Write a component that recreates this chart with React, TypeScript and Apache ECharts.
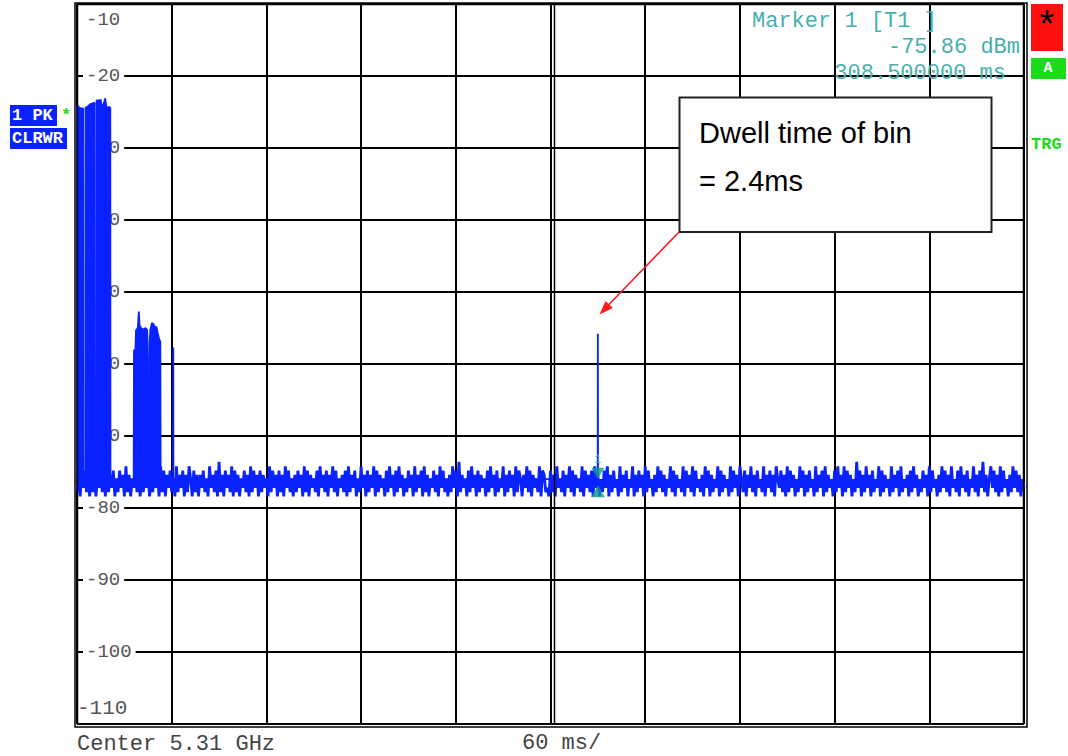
import React, { useEffect, useRef } from "react";
import * as echarts from "echarts";

// ---- data ----
const sweepMs = [0, 600];
const levelRange = [-110, -10];
const timeDivMs = 60;
const levelDivDb = 10;

// noise floor, one sample per ms; digit d => noiseBase + noiseStep * d (dBm)
const noiseBase = -79;
const noiseStep = 0.6;
const noiseFloorDigits = [
  "26163 72817 26153 62718 26371 52736 18261 53728 16273 61527",
  "36182 71637 25182 63716 28517 26163 72518 36271 92617 36281",
  "72615 37261 82736 17263 51827 36172 61837 25162 73618 27163",
  "52718 36271 63827 15362 71826 37152 83617 26381 72635 17283",
  "61728 36152 73618 26371 82615 37261 83725 16283 71926 35172",
  "83617 26351 72836 17253 81627 36182 75163 82716 35281 76231",
  "72618 35271 63827 16352 81736 27183 61527 38162 73518 26371",
  "53816 27361 82735 16283 72615 38271 63528 17362 81735 26183",
  "71625 38172 63518 27361 85271 63826 17352 81637 26185 37261",
  "82736 15283 71627 35182 63718 26351 72836 18273 61529 37162",
  "83617 25381 72635 18263 71825 36172 83615 27361 82735 16283",
  "72618 35271 83627 15382 61739 26158 37261 82735 16283 72615",
  "3",
];

// burst envelopes [ms, dBm]
const burstBase = -76;
const burstGroupA: [number, number][] = [
  [0, -76], [0, -24.0], [1, -24.3], [2.5, -24.5], [3.9, -24.5], [4.0, -76], [5.3, -76],
  [5.4, -24.4], [7, -24.2], [8.5, -23.9], [10, -23.8], [11.1, -23.7], [11.2, -76], [12.3, -76],
  [12.4, -23.4], [14, -23.4], [15, -23.3], [15.5, -24.0], [15.6, -76], [16.5, -76],
  [16.6, -24.0], [17.3, -23.6], [17.8, -23.1], [18.7, -24.3], [18.8, -76], [19.7, -76],
  [19.8, -24.3], [21.1, -24.4], [21.2, -76],
];
const burstGroupB: [number, number][] = [
  [35.9, -76], [36.1, -58.1], [37, -58.0], [37.4, -55.3], [38.5, -55.0], [39.2, -52.7],
  [39.6, -54.6], [40.5, -55.0], [42, -55.2], [43.5, -55.0], [44.5, -55.3], [44.8, -59.0],
  [44.9, -76], [45.9, -76], [46.0, -57.0], [46.5, -55.2], [47.5, -54.3], [48.6, -54.5],
  [49.5, -55.0], [50.3, -54.8], [51.1, -55.7], [52.1, -56.6], [52.8, -56.9], [53.0, -76],
];
const burstSpikes: [number, number][] = [
  [60.9, -76], [61, -57.7], [61.1, -76],
  [329.9, -76], [330, -55.8], [330.1, -76],
];
const marker1: [number, number] = [330, -75.86];

const markerTexts = ["Marker 1 [T1 ]", "-75.86 dBm", "308.500000 ms"];
const footerTexts = ["Center 5.31 GHz", "60 ms/"];
const traceBadges = ["1 PK", "CLRWR"];
const annotationLines = ["Dwell time of bin", "= 2.4ms"];
const statusTexts = ["*", "A", "TRG"];

// ---- styles ----
const MONO = '"Liberation Mono", "Courier New", monospace';
const SANS = '"Liberation Sans", Arial, sans-serif';
const BLUE = "#0a22ff";
const TEAL = "#46b0b0";
const MARK = "#10998e";
const GREEN = "#19dd19";

export default function App() {
  const ref = useRef<HTMLDivElement>(null);

  useEffect(() => {
    if (!ref.current) return;
    const chart = echarts.init(ref.current, undefined, { renderer: "svg" });

    const digits = noiseFloorDigits.join("").replace(/\s/g, "");
    const noiseData = digits.split("").map((d, i) => [i, noiseBase + noiseStep * Number(d)]);
    const burstData = [...burstGroupA, ...burstGroupB, ...burstSpikes];

    const labelFmt = (v: number) => {
      if (v === levelRange[0]) return `{mn|${v}}`;
      if (v === levelRange[1]) return `{s| }{mx|${v}}`;
      return `{s| }{t|${v}}`;
    };

    chart.setOption({
      animation: false,
      backgroundColor: "#fff",
      grid: { left: 77, right: 44, top: 4, bottom: 32, containLabel: false },
      xAxis: {
        type: "value",
        min: sweepMs[0],
        max: sweepMs[1],
        interval: timeDivMs,
        axisLine: { show: false },
        axisTick: { show: false },
        axisLabel: { show: false },
        splitLine: { show: true, lineStyle: { color: "#000", width: 2 } },
      },
      yAxis: {
        type: "value",
        min: levelRange[0],
        max: levelRange[1],
        interval: levelDivDb,
        axisLine: { show: false },
        axisTick: { show: false },
        splitLine: { show: true, lineStyle: { color: "#000", width: 2 } },
        axisLabel: {
          inside: true,
          margin: 0,
          formatter: labelFmt,
          verticalAlignMinLabel: "bottom",
          verticalAlignMaxLabel: "top",
          rich: {
            s: { width: 6, fontSize: 10 },
            t: { fontFamily: MONO, fontSize: 19, color: "#555", backgroundColor: "#fff", lineHeight: 21, padding: [0, 4, 0, 3] },
            mx: { fontFamily: MONO, fontSize: 19, color: "#555", lineHeight: 32, padding: [0, 0, 0, 3] },
            mn: { fontFamily: MONO, fontSize: 21, color: "#555", lineHeight: 31 },
          },
        },
      },
      series: [
        {
          name: "bursts",
          type: "line",
          data: burstData,
          symbol: "none",
          silent: true,
          z: 3,
          lineStyle: { color: BLUE, width: 1.8 },
          areaStyle: { color: BLUE, opacity: 1, origin: burstBase },
        },
        {
          name: "trace",
          type: "line",
          data: noiseData,
          symbol: "none",
          silent: true,
          z: 4,
          lineStyle: { color: BLUE, width: 2.8 },
        },
        {
          name: "marker-down",
          type: "scatter",
          data: [marker1],
          symbol: "triangle",
          symbolRotate: 180,
          symbolSize: [13, 11],
          symbolOffset: [0, -5],
          z: 6,
          itemStyle: { color: MARK },
          label: {
            show: true,
            position: "top",
            distance: 2,
            formatter: "1",
            color: TEAL,
            fontFamily: MONO,
            fontSize: 12,
          },
        },
        {
          name: "marker-up",
          type: "scatter",
          data: [marker1],
          symbol: "triangle",
          symbolSize: [14, 12],
          symbolOffset: [0, 13],
          z: 6,
          itemStyle: { color: MARK },
        },
      ],
      graphic: [
        // frame
        { type: "rect", z: 50, silent: true, shape: { x: 75, y: 3, width: 952, height: 724 }, style: { fill: "none", stroke: "#000", lineWidth: 1.5 } },
        { type: "rect", z: 50, silent: true, shape: { x: 77.5, y: 4.5, width: 946, height: 719.5 }, style: { fill: "none", stroke: "#000", lineWidth: 1.5 } },
        { type: "line", z: 50, silent: true, shape: { x1: 554.5, y1: 4, x2: 554.5, y2: 724 }, style: { stroke: "#000", lineWidth: 1.5 } },
        // marker readout
        { type: "text", z: 60, x: 752, y: 21, style: { text: markerTexts[0], font: `22px ${MONO}`, fill: TEAL, textVerticalAlign: "middle" } },
        { type: "text", z: 60, x: 1020, y: 47, style: { text: markerTexts[1], font: `22px ${MONO}`, fill: TEAL, textAlign: "right", textVerticalAlign: "middle" } },
        { type: "text", z: 60, x: 1006, y: 73, style: { text: markerTexts[2], font: `22px ${MONO}`, fill: TEAL, textAlign: "right", textVerticalAlign: "middle" } },
        // footer
        { type: "text", z: 60, x: 77, y: 744, style: { text: footerTexts[0], font: `22px ${MONO}`, fill: "#444", textVerticalAlign: "middle" } },
        { type: "text", z: 60, x: 522, y: 743, style: { text: footerTexts[1], font: `22px ${MONO}`, fill: "#444", textVerticalAlign: "middle" } },
        // trace badges
        { type: "text", z: 60, x: 10, y: 105, style: { text: traceBadges[0], font: `bold 17px ${MONO}`, fill: "#fff", backgroundColor: BLUE, padding: [2, 4, 2, 2], width: 41 } },
        { type: "text", z: 60, x: 61, y: 107, style: { text: "*", font: `bold 17px ${MONO}`, fill: GREEN } },
        { type: "text", z: 60, x: 10, y: 128, style: { text: traceBadges[1], font: `bold 17px ${MONO}`, fill: "#fff", backgroundColor: BLUE, padding: [2, 4, 2, 2] } },
        // status boxes
        { type: "rect", z: 60, shape: { x: 1031, y: 4, width: 32, height: 47 }, style: { fill: "#ff1010" } },
        { type: "text", z: 61, x: 1047, y: 27, style: { text: statusTexts[0], font: `38px ${MONO}`, fill: "#000", textAlign: "center", textVerticalAlign: "middle" } },
        { type: "rect", z: 60, shape: { x: 1031, y: 58, width: 35, height: 21 }, style: { fill: GREEN } },
        { type: "text", z: 61, x: 1048, y: 68.5, style: { text: statusTexts[1], font: `bold 15px ${MONO}`, fill: "#fff", textAlign: "center", textVerticalAlign: "middle" } },
        { type: "text", z: 61, x: 1031, y: 144, style: { text: statusTexts[2], font: `bold 17px ${MONO}`, fill: GREEN, textVerticalAlign: "middle" } },
        // annotation
        { type: "rect", z: 70, shape: { x: 679.5, y: 97.5, width: 312, height: 134.5 }, style: { fill: "#fff", stroke: "#222", lineWidth: 2 } },
        { type: "text", z: 71, x: 699, y: 133, style: { text: annotationLines[0], font: `29px ${SANS}`, fill: "#000", textVerticalAlign: "middle" } },
        { type: "text", z: 71, x: 699, y: 181, style: { text: annotationLines[1], font: `29px ${SANS}`, fill: "#000", textVerticalAlign: "middle" } },
        { type: "line", z: 70, shape: { x1: 679, y1: 232, x2: 608, y2: 305.5 }, style: { stroke: "#ff1a1a", lineWidth: 1.6 } },
        { type: "polygon", z: 70, shape: { points: [[599.5, 314.5], [612.8, 307.9], [605.6, 300.9]] }, style: { fill: "#ff1a1a" } },
      ],
    });

    return () => chart.dispose();
  }, []);

  return <div ref={ref} style={{ width: 1068, height: 756, position: "absolute", left: 0, top: 0 }} />;
}
